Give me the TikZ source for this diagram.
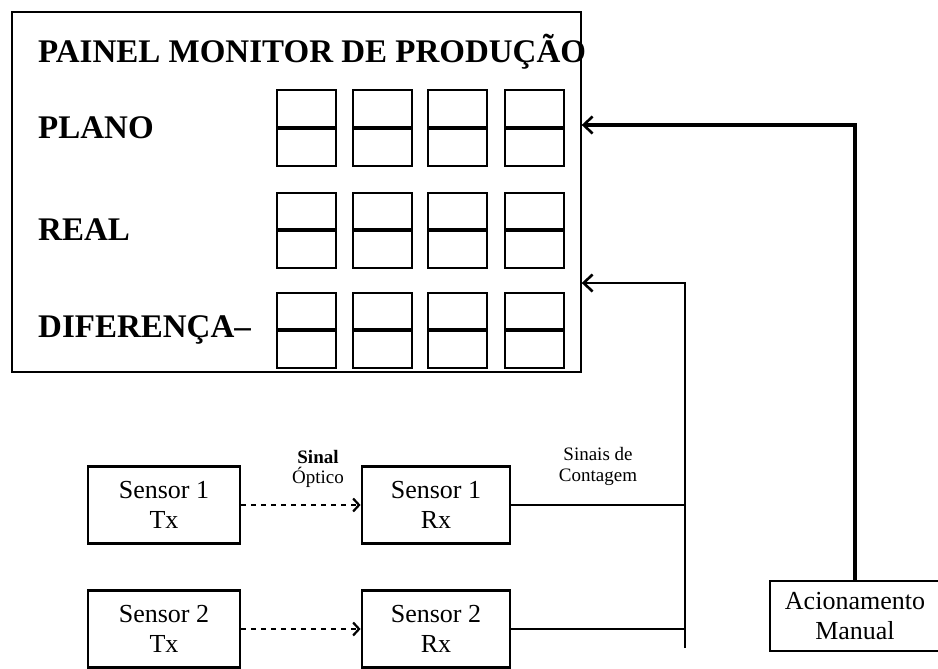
\documentclass[tikz,border=0pt]{standalone}
\usepackage{fontspec}
\setmainfont{Liberation Serif}
\usetikzlibrary{arrows.meta,positioning,calc}

\begin{document}
\begin{tikzpicture}[
  x=1pt, y=-1pt,
  big/.style={font=\fontsize{33}{36}\selectfont\bfseries, inner sep=0pt},
  digit/.style={draw, line width=2pt, minimum width=59pt, minimum height=75pt, inner sep=0pt},
  sens/.style={draw, line width=2.8pt, align=center, minimum width=152pt, minimum height=77pt,
    font=\fontsize{26}{30}\selectfont, inner sep=0pt},
  small/.style={font=\fontsize{19}{21}\selectfont, align=center, inner sep=0pt},
  conn/.style={line width=2.8pt},
  barb/.style={-{Straight Barb[length=9pt,width=17pt,line width=2.6pt]}},
  optic/.style={line width=2.6pt, dash pattern=on 5pt off 5pt, -{Straight Barb[length=6pt,width=13pt,line width=2.2pt]}},
]
\useasboundingbox (0,0) rectangle (938,669);

% ---- the panel ----
\node[draw, line width=1.4pt, minimum width=569pt, minimum height=360pt, inner sep=0pt] (panel) at (296.5,192) {};
\node[big, anchor=west] (title) at (38,52) {PAINEL MONITOR DE PRODUÇÃO};
\node[big, anchor=west] (plano) at (38,128) {PLANO};
\node[big, anchor=west] (real)  at (38,230) {REAL};
\node[big, anchor=west] (dif)   at (38,330) {DIFERENÇA–};

% digit windows, three rows of four
\foreach \r/\y in {1/128, 2/230, 3/330} {
  \foreach \c/\x in {1/306.5, 2/382.5, 3/457.5, 4/534.5} {
    \node[digit] (d\r\c) at (\x,\y) {};
    \draw[line width=3.2pt] (d\r\c.west) -- (d\r\c.east);
  }
}

% ---- the sensors ----
\node[sens] (tx1) at (164,505) {Sensor 1\\Tx};
\node[sens] (tx2) at (164,629) {Sensor 2\\Tx};
\node[sens, minimum width=148pt] (rx1) at (436,505) {Sensor 1\\Rx};
\node[sens, minimum width=148pt] (rx2) at (436,629) {Sensor 2\\Rx};
\node[sens, minimum width=170pt, minimum height=70pt, line width=2.4pt] (acion) at (855,616) {Acionamento\\Manual};

\node[small, font=\fontsize{19}{21}\selectfont\bfseries] (sinal) at (318,457) {Sinal};
\node[small, below=3pt of sinal] (optico) {Óptico};
\node[small] (contag) at (598,466) {Sinais de\\Contagem};

\draw[optic] (tx1.east) -- (rx1.west);
\draw[optic] (tx2.east) -- (rx2.west);

% ---- counting bus and manual input ----
\coordinate (pin1) at (panel.east |- 0,125);
\coordinate (pin2) at (panel.east |- 0,283);
\coordinate (bustop) at (685,283);
\coordinate (busbot) at (685,648);

\draw[conn] (rx1.east) -- (rx1.east -| bustop);
\draw[conn] (rx2.east) -- (rx2.east -| bustop);
\draw[conn, barb] (busbot) -- (bustop) -- (pin2);
\draw[conn, line width=3.6pt, barb] (acion.north) |- (pin1);
\end{tikzpicture}
\end{document}
